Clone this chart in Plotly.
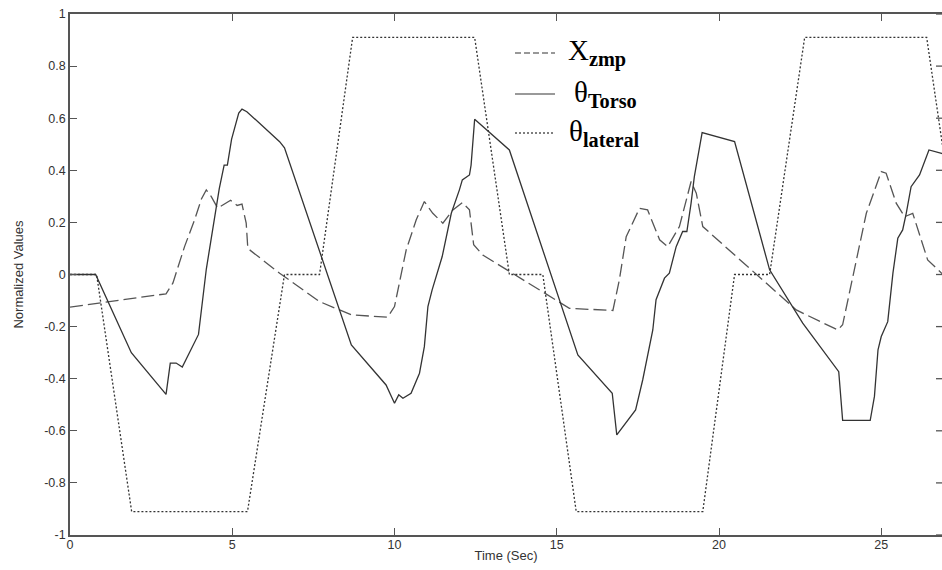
import plotly.graph_objects as go

# ---- data ----
t_zmp = [0, 2.96, 3.17, 3.53, 3.84, 4.05, 4.2, 4.35, 4.55, 4.75, 4.95, 5.15, 5.3, 5.43, 5.48,
         6.46, 7.69, 8.67, 9.79, 10.0, 10.36, 10.67, 10.92, 11.18, 11.49, 11.8, 12.09, 12.31,
         12.44, 12.72, 14.88, 15.39, 16.73, 16.93, 17.14, 17.55, 17.8, 18.17, 18.42, 18.78,
         19.14, 19.3, 19.5, 22.38, 23.66, 23.81, 24.54, 25.0, 25.15, 25.46, 25.72, 25.97,
         26.43, 26.86, 27.0]
x_zmp = [-0.125, -0.074, -0.033, 0.107, 0.21, 0.29, 0.325, 0.30, 0.255, 0.27, 0.285, 0.265,
         0.27, 0.197, 0.10, 0.005, -0.104, -0.155, -0.164, -0.123, 0.094, 0.21, 0.28, 0.235,
         0.197, 0.248, 0.276, 0.248, 0.114, 0.075, -0.091, -0.13, -0.138, -0.02, 0.145, 0.254,
         0.248, 0.133, 0.107, 0.184, 0.357, 0.312, 0.184, -0.136, -0.213, -0.193, 0.235, 0.395,
         0.389, 0.274, 0.222, 0.235, 0.056, 0.005, -0.005]

t_torso = [0, 0.79, 1.89, 2.96, 3.09, 3.27, 3.46, 3.96, 4.2, 4.45, 4.6, 4.75, 4.85, 4.98, 5.1,
           5.2, 5.3, 5.45, 6.46, 6.61, 8.67, 9.74, 10.0, 10.13, 10.26, 10.51, 10.77, 10.92,
           11.03, 11.16, 11.47, 11.75, 12.0, 12.09, 12.31, 12.36, 12.47, 13.54, 15.65, 16.71,
           16.85, 17.09, 17.43, 17.65, 17.86, 17.96, 18.06, 18.32, 18.47, 18.68, 18.88, 19.01,
           19.14, 19.24, 19.48, 20.48, 21.56, 22.58, 23.69, 23.81, 24.66, 24.79, 24.9, 25.0,
           25.2, 25.36, 25.51, 25.66, 25.77, 25.92, 26.18, 26.47, 26.86, 27.0]
theta_torso = [0, 0, -0.30, -0.46, -0.34, -0.34, -0.355, -0.23, 0.02, 0.21, 0.33, 0.42, 0.42,
               0.52, 0.57, 0.62, 0.635, 0.625, 0.51, 0.486, -0.27, -0.424, -0.494, -0.462,
               -0.475, -0.456, -0.379, -0.277, -0.123, -0.059, 0.069, 0.235, 0.325, 0.363,
               0.382, 0.42, 0.596, 0.478, -0.309, -0.456, -0.616, -0.577, -0.52, -0.404,
               -0.264, -0.213, -0.097, -0.014, 0.005, 0.107, 0.165, 0.165, 0.274, 0.376, 0.545,
               0.51, 0.018, -0.187, -0.373, -0.56, -0.56, -0.468, -0.289, -0.238, -0.181, 0.005,
               0.139, 0.171, 0.235, 0.337, 0.382, 0.478, 0.465, 0.46]

t_lat = [0, 0.82, 1.9, 5.47, 6.61, 7.69, 8.71, 12.47, 13.54, 14.57, 15.6, 19.5, 20.48, 21.56,
         22.64, 26.4, 27.0]
theta_lat = [0, 0, -0.91, -0.91, 0, 0, 0.91, 0.91, 0, 0, -0.91, -0.91, 0, 0, 0.91, 0.91, 0.40]

x_ticks = [0, 5, 10, 15, 20, 25]
x_tick_labels = ["0", "5", "10", "15", "20", "25"]
y_ticks = [1, 0.8, 0.6, 0.4, 0.2, 0, -0.2, -0.4, -0.6, -0.8, -1]
y_tick_labels = ["1", "0.8", "0.6", "0.4", "0.2", "0", "-0.2", "-0.4", "-0.6", "-0.8", "-1"]

# ---- layout geometry ----
W, H = 942, 570
ML, MT, MB, MR = 70, 14, 35, 0
PW, PH = W - ML - MR, H - MT - MB
PX_PER_UNIT = 32.45
X_MAX = PW / PX_PER_UNIT

def px(x):
    return (x - ML) / PW

def py(y):
    return (H - MB - y) / PH

LINE = "#333333"
AX = "#555555"

fig = go.Figure()
fig.add_trace(go.Scatter(x=t_zmp, y=x_zmp, mode="lines",
                         line=dict(color="#555555", width=1.3, dash="13px,5px"),
                         showlegend=False))
fig.add_trace(go.Scatter(x=t_torso, y=theta_torso, mode="lines",
                         line=dict(color=LINE, width=1.3), showlegend=False))
fig.add_trace(go.Scatter(x=t_lat, y=theta_lat, mode="lines",
                         line=dict(color=LINE, width=1.3, dash="2px,2px"),
                         showlegend=False))

shapes = []
# right-side inward ticks (the right spine itself is cropped out of the picture)
for yv in y_ticks:
    shapes.append(dict(type="line", xref="paper", yref="y", x0=1 - 6 / PW, x1=1.0,
                       y0=yv, y1=yv, line=dict(color=AX, width=1.3)))
# legend samples
leg = [(53, dict(color="#777777", width=1.3, dash="6px,3px")),
       (94, dict(color="#777777", width=1.3)),
       (133, dict(color="#555555", width=1.3, dash="2px,2px"))]
for yy, ln in leg:
    shapes.append(dict(type="line", xref="paper", yref="paper", x0=px(515), x1=px(555),
                       y0=py(yy), y1=py(yy), line=ln))

serif = "Liberation Serif, Times New Roman, serif"
annotations = [
    dict(x=px(566), y=py(53), xref="paper", yref="paper", xanchor="left", yanchor="middle",
         text="X<sub><b>zmp</b></sub>", showarrow=False,
         font=dict(family=serif, size=29, color="black")),
    dict(x=px(572), y=py(94), xref="paper", yref="paper", xanchor="left", yanchor="middle",
         text="θ<sub><b>Torso</b></sub>", showarrow=False,
         font=dict(family=serif, size=29, color="black")),
    dict(x=px(567), y=py(133), xref="paper", yref="paper", xanchor="left", yanchor="middle",
         text="θ<sub><b>lateral</b></sub>", showarrow=False,
         font=dict(family=serif, size=29, color="black")),
]

tickfont = dict(family="Liberation Sans, Arial, sans-serif", size=12.5, color="#333333")
titlefont = dict(family="Liberation Sans Narrow, Arial Narrow, Liberation Sans, sans-serif",
                 size=13, color="#333333")

fig.update_layout(
    width=W, height=H,
    margin=dict(l=ML, r=MR, t=MT, b=MB, pad=0),
    paper_bgcolor="white", plot_bgcolor="white",
    shapes=shapes, annotations=annotations,
    xaxis=dict(range=[0, X_MAX], tickvals=x_ticks, ticktext=x_tick_labels,
               ticks="inside", ticklen=7, tickwidth=1.3, tickcolor=AX,
               showline=True, linecolor=AX, linewidth=1.6, mirror="ticks",
               showgrid=False, zeroline=False, tickfont=tickfont,
               ticklabelstandoff=-3,
               title=dict(text="Time (Sec)", font=titlefont, standoff=0)),
    yaxis=dict(range=[-1, 1], tickvals=y_ticks, ticktext=y_tick_labels,
               ticks="inside", ticklen=7, tickwidth=1.3, tickcolor=AX,
               showline=True, linecolor=AX, linewidth=1.6, mirror=False,
               showgrid=False, zeroline=False, tickfont=tickfont,
               title=dict(text="Normalized Values", font=titlefont, standoff=18)),
)

fig.write_html("out.html")
